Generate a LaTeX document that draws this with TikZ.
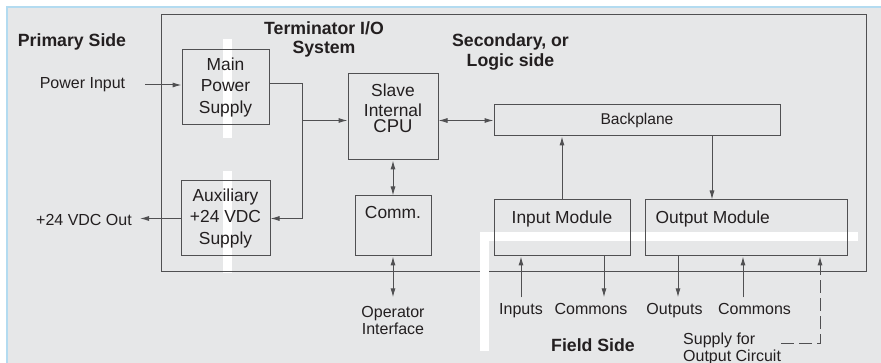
\documentclass[tikz,border=0pt]{standalone}
\usepackage{fontspec}
\setmainfont{Liberation Sans}
\usetikzlibrary{arrows.meta,positioning}
\definecolor{PanelGray}{HTML}{E6E7E8}
\definecolor{EdgeBlue}{HTML}{B3DBF0}
\definecolor{WireGray}{HTML}{505052}
\definecolor{InkBlack}{HTML}{231F20}

\begin{document}
\begin{tikzpicture}[x=1pt,y=-1pt,>={Latex[length=9pt,width=5pt]},
  blk/.style={draw=WireGray,line width=1pt,inner sep=0pt},
  boxtext/.style={text=InkBlack,align=center,inner sep=0pt,
    font=\fontsize{17.4}{21.5}\selectfont},
  lbl/.style={text=InkBlack,align=center,inner sep=2pt,
    font=\fontsize{16}{17.5}\selectfont},
  tag/.style={lbl,text height=11.5pt,text depth=3.5pt,inner ysep=5.5pt},
  ttl/.style={text=InkBlack,align=center,inner sep=0pt,
    font=\bfseries\fontsize{17.7}{19.5}\selectfont},
  wire/.style={draw=WireGray,line width=1pt},
  gapline/.style={white,line width=9pt}]
  \useasboundingbox (0,0) rectangle (881,363);
  \fill[PanelGray] (7,7) rectangle (881,363);
  \draw[EdgeBlue,line width=1.5pt] (7,363) -- (7,7) -- (881,7);

  % isolation between primary and logic side
  \draw[gapline] (227.5,39) -- (227.5,138) (227.5,171) -- (227.5,273);
  \draw[wire] (161,15) rectangle (866,272);
  \draw[gapline] (484.5,351) -- (484.5,236.5) -- (858,236.5);

  \node[ttl] (prim) at (72,42) {Primary Side};
  \node[ttl] (tio) at (324,39.5) {Terminator I/O\\System};
  \node[ttl] (sec) at (510.5,52) {Secondary, or\\Logic side};
  \node[ttl] (field) at (593,345) {Field Side};

  \node[blk,boxtext,minimum width=87pt,minimum height=75pt] (mps)
      at (225.5,87.5) {Main\\Power\\Supply};
  \node[blk,boxtext,minimum width=89pt,minimum height=75pt] (aux)
      at (225.5,218.5) {Auxiliary\\+24 VDC\\Supply};
  \node[blk,minimum width=90pt,minimum height=86pt] (cpu) at (393,117) {};
  \node[boxtext,font=\fontsize{17.4}{20}\selectfont,below=10pt of cpu.north]
      (cputxt) {Slave\\Internal\\[-3.5pt]{\fontsize{18.5}{18.5}\selectfont CPU}};
  \node[blk,minimum width=76pt,minimum height=60pt] (comm) at (393,226) {};
  \node[boxtext,below=10.5pt of comm.north] (commtxt) {Comm.};
  \node[blk,boxtext,font=\fontsize{15.6}{18}\selectfont,
        minimum width=286pt,minimum height=31pt] (bp) at (637,120.5) {Backplane};
  \node[blk,minimum width=136pt,minimum height=56pt] (im) at (562,228) {};
  \node[boxtext,below=11.5pt of im.north] (imtxt) {Input Module};
  \node[blk,minimum width=202pt,minimum height=56pt] (om) at (746,228) {};
  \node[boxtext,below right=11.5pt and 11pt of om.north west] (omtxt) {Output Module};

  \node[lbl] (pin) at (82.5,85) {Power Input};
  \node[lbl] (vout) at (84,220) {+24 VDC Out};
  \node[lbl] (opi) at (393,320.5) {Operator\\Interface};
  \node[tag] (inp) at (521,310.5) {Inputs};
  \node[tag] (com1) at (591,310.5) {Commons};
  \node[tag] (outp) at (674.5,310.5) {Outputs};
  \node[tag] (com2) at (754.5,310.5) {Commons};
  \node[lbl,align=left,anchor=west] (sup) at (681,349) {Supply for\\Output Circuit};

  % power feed
  \coordinate (feed) at (302,84);
  \draw[wire,->] ([xshift=18pt]pin.east) -- (pin.east -| mps.west);
  \draw[wire,->] ([yshift=3.5pt]mps.east) -- (feed) |- (aux.east);
  \draw[wire,->] (feed |- bp) -- (cpu.west |- bp);
  \draw[wire,->] (aux.west) -- ([xshift=6pt]vout.east |- aux.west);

  \draw[wire,<->] (cpu.east |- bp) -- (bp.west);
  \draw[wire,<->] (cpu.south) -- (comm.north);
  \draw[wire,<->] (comm.south) -- ([yshift=6.5pt]opi.north);
  \draw[wire,->] (im.north) -- (im.north |- bp.south);
  \draw[wire,->] ([xshift=-34pt]om.north |- bp.south) -- ([xshift=-34pt]om.north);

  % field wiring
  \draw[wire,->] (inp.north) -- (inp.north |- im.south);
  \draw[wire,->] ([xshift=42pt]im.south) -- ([xshift=42pt]im.south |- com1.north);
  \draw[wire,->] ([xshift=-68pt]om.south) -- ([xshift=-68pt]om.south |- outp.north);
  \draw[wire,->] ([xshift=-3pt]om.south |- com2.north) -- ([xshift=-3pt]om.south);
  \coordinate (sfeed) at (781,344);
  \draw[wire,dash pattern=on 13pt off 5pt,->] (sfeed) -| ([xshift=74pt]om.south);
\end{tikzpicture}
\end{document}
